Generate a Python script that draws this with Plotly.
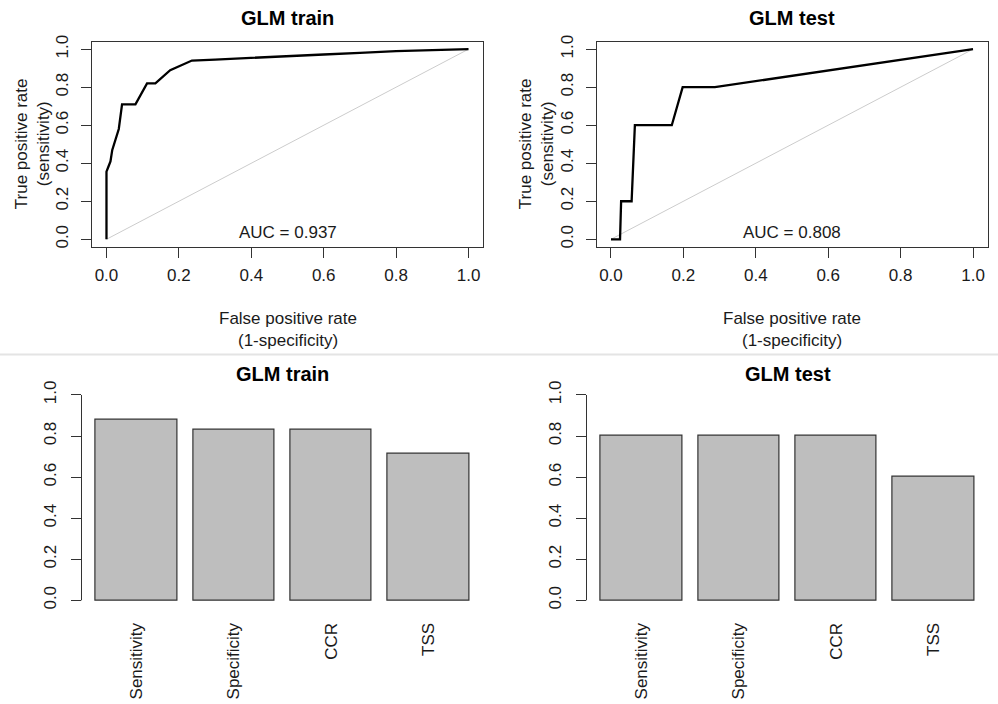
import plotly.graph_objects as go

# ---------------- data ----------------
train_fpr = [0, 0, 0.005, 0.011, 0.016, 0.025, 0.034, 0.043, 0.08, 0.112, 0.135, 0.176, 0.204, 0.236,
             0.30, 0.40, 0.50, 0.60, 0.70, 0.80, 0.90, 1.0]
train_tpr = [0, 0.356, 0.38, 0.41, 0.47, 0.53, 0.58, 0.71, 0.71, 0.82, 0.82, 0.889, 0.911, 0.94,
             0.945, 0.955, 0.965, 0.972, 0.98, 0.99, 0.995, 1.0]
test_fpr = [0, 0.025, 0.028, 0.057, 0.066, 0.168, 0.198, 0.287, 1.0]
test_tpr = [0, 0, 0.2, 0.2, 0.6, 0.6, 0.8, 0.8, 1.0]
diag = [0, 1]
auc_train = "AUC = 0.937"
auc_test = "AUC = 0.808"

categories = ["Sensitivity", "Specificity", "CCR", "TSS"]
train_vals = [0.880, 0.832, 0.832, 0.712]
test_vals = [0.80, 0.80, 0.80, 0.60]

ticks01 = [0, 0.2, 0.4, 0.6, 0.8, 1.0]
ticks01_text = ["0.0", "0.2", "0.4", "0.6", "0.8", "1.0"]

# ---------------- layout helpers ----------------
W, H = 998, 704
FONT = "Liberation Sans, Arial, sans-serif"
AX = "#333333"


def px_x(a, b):
    return [a / W, b / W]


def px_y(top, bottom):
    return [1 - bottom / H, 1 - top / H]


fig = go.Figure()

# ROC curves
fig.add_trace(go.Scatter(x=diag, y=diag, mode="lines", line=dict(color="#cccccc", width=1),
                         xaxis="x", yaxis="y", showlegend=False, hoverinfo="skip"))
fig.add_trace(go.Scatter(x=train_fpr, y=train_tpr, mode="lines", line=dict(color="black", width=2.3),
                         xaxis="x", yaxis="y", showlegend=False))
fig.add_trace(go.Scatter(x=diag, y=diag, mode="lines", line=dict(color="#cccccc", width=1),
                         xaxis="x2", yaxis="y2", showlegend=False, hoverinfo="skip"))
fig.add_trace(go.Scatter(x=test_fpr, y=test_tpr, mode="lines", line=dict(color="black", width=2.3),
                         xaxis="x2", yaxis="y2", showlegend=False))

# Bars
bar_w = 1 / 1.2
fig.add_trace(go.Bar(x=categories, y=train_vals, width=bar_w, xaxis="x3", yaxis="y3",
                     marker=dict(color="#bebebe", line=dict(color=AX, width=1.2)), showlegend=False))
fig.add_trace(go.Bar(x=categories, y=test_vals, width=bar_w, xaxis="x4", yaxis="y4",
                     marker=dict(color="#bebebe", line=dict(color=AX, width=1.2)), showlegend=False))

tickfont = dict(family=FONT, size=17, color="#1a1a1a")

roc_x_common = dict(range=[-0.04, 1.04], tickvals=ticks01, ticktext=ticks01_text, ticks="outside",
                    ticklen=10, tickcolor=AX, showline=True, mirror=True, linecolor=AX, linewidth=1,
                    showgrid=False, zeroline=False, tickfont=tickfont, ticklabelstandoff=3, fixedrange=True)
roc_y_common = dict(range=[-0.04, 1.04], tickvals=ticks01, ticktext=ticks01_text, ticks="outside",
                    ticklen=10, tickcolor=AX, showline=True, mirror=True, linecolor=AX, linewidth=1,
                    showgrid=False, zeroline=False, tickfont=tickfont, tickangle=-90,
                    ticklabelstandoff=6, fixedrange=True)

bar_x_common = dict(type="category", range=[-0.565, 3.565], showline=False, ticks="", showgrid=False,
                    zeroline=False, tickangle=-90, tickfont=tickfont, ticklabelstandoff=10, fixedrange=True)
bar_y_common = dict(range=[-0.04, 1.04], tickvals=ticks01, ticktext=ticks01_text, ticks="outside",
                    ticklen=10, tickcolor=AX, showline=False, showgrid=False, zeroline=False,
                    tickfont=tickfont, tickangle=-90, ticklabelstandoff=8, fixedrange=True)

roc_ydom = px_y(35, 243)
bar_ydom = px_y(384.7, 609.3)

fig.update_layout(
    width=W, height=H, margin=dict(l=0, r=0, t=0, b=0),
    paper_bgcolor="white", plot_bgcolor="white",
    font=dict(family=FONT, size=17, color="#1a1a1a"),
    bargap=0,
    xaxis=dict(domain=px_x(92, 483), anchor="y", **roc_x_common),
    yaxis=dict(domain=roc_ydom, anchor="x", **roc_y_common),
    xaxis2=dict(domain=px_x(596.5, 987.5), anchor="y2", **roc_x_common),
    yaxis2=dict(domain=roc_ydom, anchor="x2", **roc_y_common),
    xaxis3=dict(domain=px_x(81.5, 483.5), anchor="y3", **bar_x_common),
    yaxis3=dict(domain=bar_ydom, anchor="x3", **bar_y_common),
    xaxis4=dict(domain=px_x(586.5, 988.5), anchor="y4", **bar_x_common),
    yaxis4=dict(domain=bar_ydom, anchor="x4", **bar_y_common),
)

# y axis lines for bar plots (span 0..1 only, like R)
for xa, ya in [("x3", "y3"), ("x4", "y4")]:
    fig.add_shape(type="line", xref=f"{xa} domain", yref=ya, x0=0, x1=0, y0=0, y1=1,
                  line=dict(color=AX, width=1))

# separator line
fig.add_shape(type="line", xref="paper", yref="paper", x0=0, x1=1, y0=1 - 352 / H, y1=1 - 352 / H,
              line=dict(color="#e4e4e4", width=2))

ann = []
title_font = dict(family=FONT, size=20, color="black")
for txt, xc, yc in [("<b>GLM train</b>", 287.5, 11), ("<b>GLM test</b>", 792, 11),
                    ("<b>GLM train</b>", 282.5, 372), ("<b>GLM test</b>", 787.5, 372)]:
    ann.append(dict(text=txt, x=xc / W, y=1 - yc / H, xref="paper", yref="paper",
                    showarrow=False, xanchor="center", yanchor="middle", font=title_font))

lab_font = dict(family=FONT, size=17, color="#1a1a1a")
for xc in [287.5, 792]:
    ann.append(dict(text="False positive rate", x=xc / W, y=1 - 316 / H, xref="paper", yref="paper",
                    showarrow=False, xanchor="center", yanchor="middle", font=lab_font))
    ann.append(dict(text="(1-specificity)", x=xc / W, y=1 - 338 / H, xref="paper", yref="paper",
                    showarrow=False, xanchor="center", yanchor="middle", font=lab_font))
for x1, x2 in [(21, 43), (525, 547)]:
    ann.append(dict(text="True positive rate", x=x1 / W, y=1 - 139 / H, xref="paper", yref="paper",
                    showarrow=False, xanchor="center", yanchor="middle", textangle=-90, font=lab_font))
    ann.append(dict(text="(sensitivity)", x=x2 / W, y=1 - 139 / H, xref="paper", yref="paper",
                    showarrow=False, xanchor="center", yanchor="middle", textangle=-90, font=lab_font))

ann.append(dict(text=auc_train, x=0.5, y=0.036, xref="x", yref="y", showarrow=False,
                xanchor="center", yanchor="middle", font=lab_font))
ann.append(dict(text=auc_test, x=0.5, y=0.036, xref="x2", yref="y2", showarrow=False,
                xanchor="center", yanchor="middle", font=lab_font))

fig.update_layout(annotations=ann)

fig.write_html("out.html", config={"displayModeBar": False},
               post_script="document.body.style.margin='0px';document.body.style.overflow='hidden';")
